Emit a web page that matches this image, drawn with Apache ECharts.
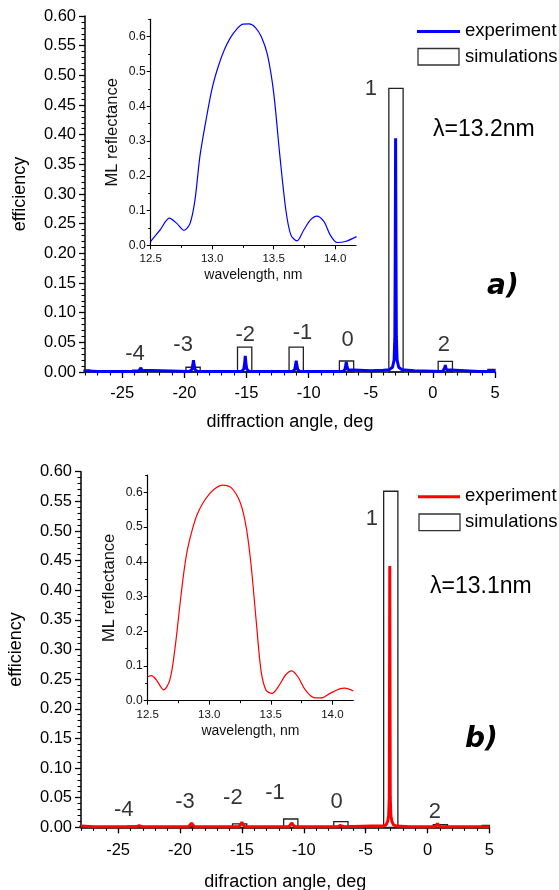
<!DOCTYPE html>
<html><head><meta charset="utf-8">
<script src="https://cdn.jsdelivr.net/npm/echarts@6/dist/echarts.min.js"></script>
<style>html,body{margin:0;padding:0;background:#fff}#c{width:559px;height:890px}</style>
</head><body><div id="c"></div>
<script>
// ---------- data ----------
const MAIN_X_TICKS = [-25, -20, -15, -10, -5, 0, 5];
const INSET_X_TICKS = [12.5, 13.0, 13.5, 14.0];
const INSET_Y_TICKS = [0, 0.1, 0.2, 0.3, 0.4, 0.5, 0.6];

// panel a : simulations (diffraction orders)
const SIM_A_ANGLE = [-28.2, -23.6, -19.3, -15.15, -11.0, -6.95, -2.97, 1.0, 5.0];
const SIM_A_EFF   = [0.003, 0.003, 0.008, 0.042, 0.042, 0.0185, 0.478, 0.018, 0.0045];
// panel a : experiment
const EXP_A_ANGLE = [-28, -27, -24.2, -23.7, -23.58, -23.5, -23.42, -23.3,
  -19.6, -19.4, -19.32, -19.27, -19.22, -19.14, -18.95,
  -15.4, -15.22, -15.15, -15.1, -15.05, -14.98, -14.8,
  -11.3, -11.12, -11.05, -11.0, -10.95, -10.88, -10.7,
  -7.25, -7.08, -7.02, -6.97, -6.92, -6.85, -6.7,
  -5.0, -4.0, -3.5, -3.25, -3.12, -3.06, -3.03, -3.0, -2.97, -2.94, -2.88, -2.75, -2.5, -1.5,
  0.8, 0.92, 0.97, 1.0, 1.03, 1.08, 1.2, 3.7, 3.8, 3.9, 5.0];
const EXP_A_EFF = [0.002, 0.001, 0.001, 0.001, 0.003, 0.007, 0.003, 0.001,
  0.001, 0.004, 0.012, 0.020, 0.012, 0.004, 0.001,
  0.001, 0.005, 0.015, 0.027, 0.015, 0.005, 0.001,
  0.001, 0.004, 0.012, 0.019, 0.012, 0.004, 0.001,
  0.001, 0.004, 0.011, 0.017, 0.011, 0.004, 0.001,
  0.002, 0.003, 0.004, 0.008, 0.020, 0.060, 0.200, 0.394, 0.200, 0.060, 0.020, 0.008, 0.004, 0.002,
  0.001, 0.004, 0.008, 0.012, 0.008, 0.004, 0.001, 0.001, 0.003, 0.001, 0.001];
// panel a : inset ML reflectance
const ML_A_WL = [12.5, 12.576, 12.652, 12.712, 12.77, 12.82, 12.86, 12.90, 12.95, 13.0, 13.05, 13.1, 13.15, 13.2, 13.25,
  13.3, 13.35, 13.4, 13.45, 13.5, 13.55, 13.6, 13.64, 13.69, 13.745, 13.80, 13.85, 13.91, 13.96, 14.016, 14.084, 14.174];
const ML_A_R = [0.011, 0.044, 0.078, 0.063, 0.043, 0.063, 0.13, 0.255, 0.36, 0.452, 0.515, 0.563, 0.598, 0.622, 0.636,
  0.637, 0.627, 0.600, 0.548, 0.44, 0.26, 0.10, 0.030, 0.013, 0.044, 0.073, 0.084, 0.068, 0.030, 0.008, 0.011, 0.025];
const ORDER_A_TEXT = ['-4', '-3', '-2', '-1', '0', '1', '2'];
const ORDER_A_X = [-23.97, -20.1, -15.1, -10.5, -6.86, -5.0, 0.88];
const ORDER_A_Y = [0.0304, 0.0455, 0.0624, 0.0666, 0.054, 0.477, 0.0455];

// panel b : simulations
const SIM_B_ANGLE = [-28.2, -23.65, -19.35, -15.18, -11.05, -7.0, -2.97, 1.04, 5.0];
const SIM_B_EFF   = [0.002, 0.002, 0.001, 0.0057, 0.014, 0.0096, 0.567, 0.0045, 0.003];
// panel b : experiment
const EXP_B_ANGLE = [-28, -27, -23.5, -23.38, -23.3, -23.22, -23.1,
  -19.3, -19.15, -19.07, -18.99, -18.85,
  -15.25, -15.08, -15.0, -14.92, -14.75,
  -11.2, -11.04, -10.96, -10.88, -10.7,
  -7.25, -7.08, -7.0, -6.92, -6.75,
  -4.5, -3.6, -3.35, -3.22, -3.14, -3.09, -3.05, -3.01, -2.96, -2.88, -2.75, -2.5, -1.5,
  0.6, 0.72, 0.8, 0.88, 1.0, 5.0];
const EXP_B_EFF = [0.002, 0.001, 0.001, 0.002, 0.003, 0.002, 0.001,
  0.001, 0.004, 0.007, 0.004, 0.001,
  0.001, 0.005, 0.0085, 0.005, 0.001,
  0.001, 0.004, 0.0075, 0.004, 0.001,
  0.001, 0.003, 0.0057, 0.003, 0.001,
  0.002, 0.002, 0.004, 0.010, 0.020, 0.050, 0.441, 0.050, 0.020, 0.010, 0.004, 0.002, 0.001,
  0.001, 0.003, 0.006, 0.003, 0.001, 0.001];
// panel b : inset ML reflectance
const ML_B_WL = [12.5, 12.53, 12.57, 12.63, 12.68, 12.72, 12.76, 12.79, 12.82, 12.86, 12.9, 12.95, 13.0, 13.05, 13.11,
  13.18, 13.25, 13.30, 13.34, 13.38, 13.42, 13.46, 13.51, 13.56, 13.62, 13.67, 13.72, 13.78, 13.85, 13.91, 13.98, 14.06, 14.10, 14.17];
const ML_B_R = [0.069, 0.072, 0.060, 0.031, 0.060, 0.146, 0.27, 0.36, 0.43, 0.49, 0.535, 0.57, 0.595, 0.612, 0.621,
  0.613, 0.572, 0.50, 0.39, 0.235, 0.088, 0.031, 0.021, 0.040, 0.074, 0.086, 0.069, 0.031, 0.009, 0.008, 0.021, 0.034, 0.036, 0.028];
const ORDER_B_TEXT = ['-4', '-3', '-2', '-1', '0', '1', '2'];
const ORDER_B_X = [-24.54, -19.6, -15.73, -12.33, -7.34, -4.49, 0.6];
const ORDER_B_Y = [0.030, 0.0427, 0.0503, 0.0579, 0.0435, 0.520, 0.0267];

// ---------- rendering ----------
const FONT = 'Liberation Sans, Arial, sans-serif';
const SIM_WIDTH = 1.15; // deg
const zip = (a, b) => a.map((v, i) => [v, b[i]]);
const range = (a, b, s) => { const r = []; for (let v = a; v <= b + 1e-9; v += s) r.push(+v.toFixed(4)); return r; };
const MAIN_X_MINOR = range(-28, 5, 1);
const INSET_X_MINOR = range(12.5, 14.0, 0.25);
const INSET_Y_MINOR = range(0, 0.65, 0.05);

function simRender(params, api) {
  const x = api.value(0), h = api.value(1);
  const p0 = api.coord([x - SIM_WIDTH / 2, h]);
  const p1 = api.coord([x + SIM_WIDTH / 2, 0]);
  const cs = params.coordSys;
  const shape = echarts.graphic.clipRectByRect(
    { x: p0[0], y: p0[1], width: p1[0] - p0[0], height: p1[1] - p0[1] },
    { x: cs.x - 1, y: cs.y - 2, width: cs.width + 1, height: cs.height + 2 });
  if (!shape) return;
  return { type: 'rect', shape: shape, style: { fill: 'none', stroke: '#222', lineWidth: 1.3 } };
}

function mainX(grid, name, labelMargin, nameGap) {
  return [{
    type: 'value', gridIndex: grid, min: -28, max: 5, position: 'bottom',
    axisLine: { onZero: false, lineStyle: { color: '#000', width: 1.5 } },
    axisTick: { length: 6, customValues: MAIN_X_TICKS, lineStyle: { color: '#000', width: 1.3 } },
    axisLabel: { customValues: MAIN_X_TICKS, fontSize: 16.5, fontFamily: FONT, color: '#000', margin: labelMargin },
    splitLine: { show: false },
    name: name, nameLocation: 'middle', nameGap: nameGap,
    nameTextStyle: { fontSize: 18, fontFamily: FONT, color: '#000' }
  }, {
    type: 'value', gridIndex: grid, min: -28, max: 5, position: 'bottom',
    axisLine: { show: false, onZero: false },
    axisTick: { length: 3.5, customValues: MAIN_X_MINOR, lineStyle: { color: '#000', width: 1.1 } },
    axisLabel: { show: false }, splitLine: { show: false }
  }];
}
function mainY(grid) {
  return {
    type: 'value', gridIndex: grid, min: 0, max: 0.6, interval: 0.05, position: 'left',
    axisLine: { show: true, onZero: false, lineStyle: { color: '#000', width: 1.5 } },
    axisTick: { show: true, length: 6, lineStyle: { color: '#000', width: 1.3 } },
    minorTick: { show: true, splitNumber: 5, length: 3.5, lineStyle: { color: '#000', width: 1.1 } },
    axisLabel: { fontSize: 16.5, fontFamily: FONT, color: '#000', margin: 9, formatter: v => v.toFixed(2) },
    splitLine: { show: false },
    name: 'efficiency', nameLocation: 'middle', nameGap: 56,
    nameTextStyle: { fontSize: 18, fontFamily: FONT, color: '#000' }
  };
}
function insetX(grid) {
  return [{
    type: 'value', gridIndex: grid, min: 12.5, max: 14.17, position: 'bottom',
    axisLine: { onZero: false, lineStyle: { color: '#000', width: 1.2 } },
    axisTick: { length: 4, customValues: INSET_X_TICKS, lineStyle: { color: '#000', width: 1 } },
    axisLabel: { customValues: INSET_X_TICKS, fontSize: 11.5, fontFamily: FONT, color: '#111', margin: 8, formatter: v => v.toFixed(1) },
    splitLine: { show: false },
    name: 'wavelength, nm', nameLocation: 'middle', nameGap: 23,
    nameTextStyle: { fontSize: 14, fontFamily: FONT, color: '#111' }
  }, {
    type: 'value', gridIndex: grid, min: 12.5, max: 14.17, position: 'bottom',
    axisLine: { show: false, onZero: false },
    axisTick: { length: 2.5, customValues: INSET_X_MINOR, lineStyle: { color: '#000', width: 1 } },
    axisLabel: { show: false }, splitLine: { show: false }
  }];
}
function insetY(grid) {
  return [{
    type: 'value', gridIndex: grid, min: 0, max: 0.65, position: 'left',
    axisLine: { show: true, onZero: false, lineStyle: { color: '#000', width: 1.2 } },
    axisTick: { show: true, length: 4, customValues: INSET_Y_TICKS, lineStyle: { color: '#000', width: 1 } },
    axisLabel: { customValues: INSET_Y_TICKS, fontSize: 12.2, fontFamily: FONT, color: '#111', margin: 5, formatter: v => v.toFixed(1) },
    splitLine: { show: false },
    name: 'ML reflectance', nameLocation: 'middle', nameGap: 30,
    nameTextStyle: { fontSize: 16.5, fontFamily: FONT, color: '#111' }
  }, {
    type: 'value', gridIndex: grid, min: 0, max: 0.65, position: 'left',
    axisLine: { show: false, onZero: false },
    axisTick: { show: true, length: 2.5, customValues: INSET_Y_MINOR, lineStyle: { color: '#000', width: 1 } },
    axisLabel: { show: false }, splitLine: { show: false }
  }];
}

function orderLabels(xi, yi, xs, ys, texts) {
  return {
    type: 'scatter', xAxisIndex: xi, yAxisIndex: yi, silent: true, z: 10,
    symbolSize: 1, itemStyle: { color: 'rgba(0,0,0,0)' },
    label: { show: true, position: 'inside', formatter: '{b}', fontSize: 22, fontFamily: FONT, color: '#000' },
    data: xs.map((x, i) => ({ name: texts[i], value: [x, ys[i]] }))
  };
}

function txt(x, y, text, size, extra) {
  return {
    type: 'text', x: x, y: y, silent: true,
    style: Object.assign({ text: text, fontSize: size, fontFamily: FONT, fill: '#000',
      verticalAlign: 'middle', textVerticalAlign: 'middle' }, extra || {})
  };
}

const chart = echarts.init(document.getElementById('c'), null, { renderer: 'canvas' });
const xa = [].concat(mainX(0, 'diffraction angle, deg', 13, 41), insetX(1), mainX(2, 'difraction angle, deg', 14.5, 46), insetX(3));
const ya = [].concat([mainY(0)], insetY(1), [mainY(2)], insetY(3));
chart.setOption({
  backgroundColor: '#fff',
  animation: false,
  grid: [
    { left: 85, top: 16, width: 410, height: 356, outerBoundsMode: 'none' },
    { left: 150.7, top: 19.3, width: 205.3, height: 226, outerBoundsMode: 'none' },
    { left: 81, top: 471.7, width: 408.4, height: 355.6, outerBoundsMode: 'none' },
    { left: 147.7, top: 475, width: 205.6, height: 225.7, outerBoundsMode: 'none' }
  ],
  xAxis: xa,
  yAxis: ya,
  series: [
    { type: 'custom', name: 'simulations', xAxisIndex: 0, yAxisIndex: 0, renderItem: simRender, data: zip(SIM_A_ANGLE, SIM_A_EFF), z: 2 },
    { type: 'line', name: 'experiment', xAxisIndex: 0, yAxisIndex: 0, data: zip(EXP_A_ANGLE, EXP_A_EFF), showSymbol: false, clip: false,
      lineStyle: { color: '#0000ff', width: 3 }, itemStyle: { color: '#0000ff' }, z: 3 },
    orderLabels(0, 0, ORDER_A_X, ORDER_A_Y, ORDER_A_TEXT),
    { type: 'line', name: 'ML a', xAxisIndex: 2, yAxisIndex: 1, data: zip(ML_A_WL, ML_A_R), showSymbol: false, smooth: 0.3,
      lineStyle: { color: '#0000ff', width: 1.2 }, itemStyle: { color: '#0000ff' } },
    { type: 'custom', name: 'simulations', xAxisIndex: 4, yAxisIndex: 3, renderItem: simRender, data: zip(SIM_B_ANGLE, SIM_B_EFF), z: 2 },
    { type: 'line', name: 'experiment', xAxisIndex: 4, yAxisIndex: 3, data: zip(EXP_B_ANGLE, EXP_B_EFF), showSymbol: false, clip: false,
      lineStyle: { color: '#ff0000', width: 3 }, itemStyle: { color: '#ff0000' }, z: 3 },
    orderLabels(4, 3, ORDER_B_X, ORDER_B_Y, ORDER_B_TEXT),
    { type: 'line', name: 'ML b', xAxisIndex: 6, yAxisIndex: 4, data: zip(ML_B_WL, ML_B_R), showSymbol: false, smooth: 0.3,
      lineStyle: { color: '#ff0000', width: 1.2 }, itemStyle: { color: '#ff0000' } }
  ],
  graphic: [
    { type: 'line', silent: true, shape: { x1: 417, y1: 31.5, x2: 460, y2: 31.5 }, style: { stroke: '#0000ff', lineWidth: 3 } },
    { type: 'rect', silent: true, shape: { x: 418, y: 48.5, width: 41, height: 16.5 }, style: { fill: 'none', stroke: '#333', lineWidth: 1.3 } },
    txt(465, 31, 'experiment', 18.5),
    txt(465, 57, 'simulations', 18.5),
    txt(433, 130, 'λ=13.2nm', 23),
    txt(487, 287, 'a)', 28, { fontFamily: 'DejaVu Sans', fontWeight: 'bold', fontStyle: 'italic' }),
    { type: 'line', silent: true, shape: { x1: 418, y1: 496.7, x2: 460, y2: 496.7 }, style: { stroke: '#ff0000', lineWidth: 3 } },
    { type: 'rect', silent: true, shape: { x: 419, y: 514, width: 41, height: 16.7 }, style: { fill: 'none', stroke: '#333', lineWidth: 1.3 } },
    txt(465, 496, 'experiment', 18.5),
    txt(465, 522, 'simulations', 18.5),
    txt(430, 587, 'λ=13.1nm', 23),
    txt(465, 740, 'b)', 28, { fontFamily: 'DejaVu Sans', fontWeight: 'bold', fontStyle: 'italic' })
  ]
});
</script></body></html>
